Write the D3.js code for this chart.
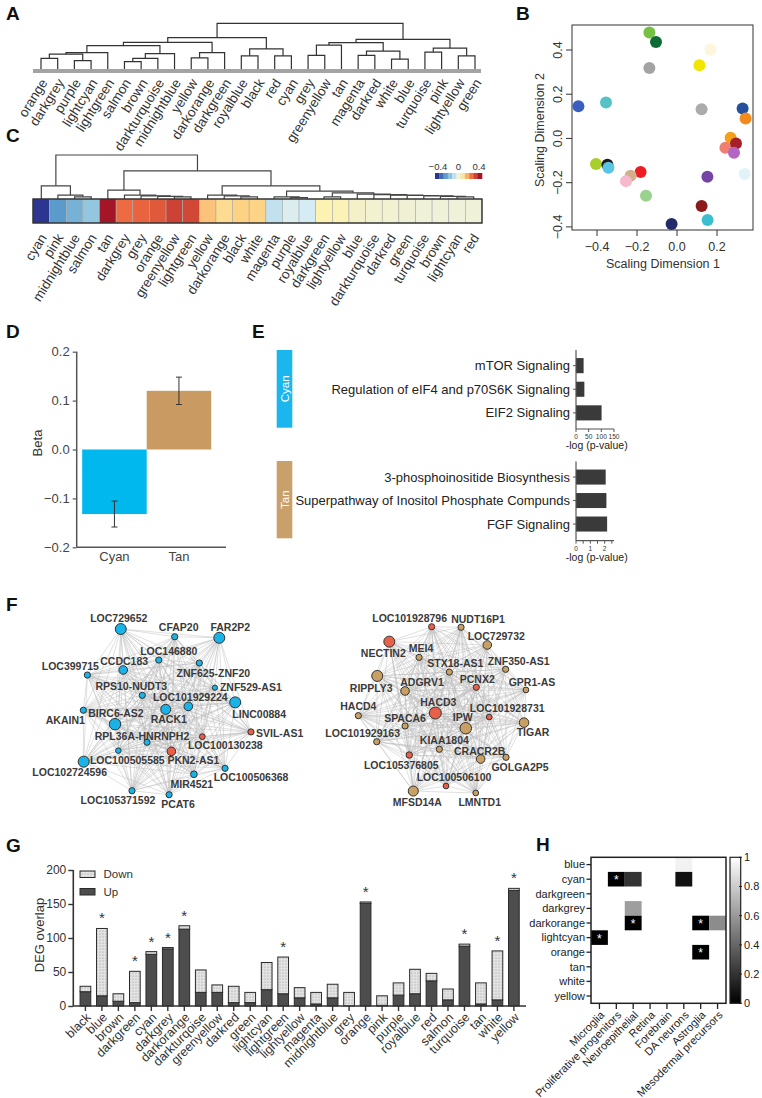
<!DOCTYPE html>
<html>
<head>
<meta charset="utf-8">
<script src="https://cdn.jsdelivr.net/npm/d3@7"></script>
<style>
  body { margin: 0; background: #fff; }
  svg { display: block; font-family: "Liberation Sans", Arial, sans-serif; }
</style>
</head>
<body>
<svg id="fig" width="762" height="1098"></svg>
<script>

// ---------- A: module eigengene dendrogram [height, left, right] ----------
const treeA = [47.7,
  [32.7,
    [27.7,
      [24.3,
        [17, [15.5, [11, "orange", "darkgrey"], [8.7, "purple", "lightcyan"]], "lightgreen"],
        [16, [11, [7.7, "salmon", "brown"], "darkturquoise"], "midnightblue"]],
      [17, [11.7, "yellow", "darkorange"], "darkgreen"]],
    [21, [13.7, "royalblue", "black"], [13.7, "red", "cyan"]]],
  [31,
    [27.5,
      [25, [14.3, "grey", "greenyellow"], "tan"],
      [18.7, [14.3, "magenta", "darkred"], [10.3, "white", "blue"]]],
    [21.7, [17.7, "turquoise", "pink"], [13.7, "lightyellow", "green"]]]];

// ---------- B: MDS of module eigengenes ----------
const mdsModules = ["green", "darkgreen", "lightyellow", "yellow", "grey", "royalblue", "darkturquoise",
  "darkgrey", "blue", "orange", "darkorange", "salmon", "darkred", "magenta", "greenyellow", "black",
  "cyan", "red", "tan", "pink", "purple", "lightcyan", "lightgreen", "brown", "turquoise", "midnightblue"];
const mdsX = [-0.138, -0.105, 0.168, 0.112, -0.138, -0.493, -0.355, 0.123, 0.328, 0.343, 0.268, 0.242,
  0.295, 0.285, -0.405, -0.348, -0.343, -0.182, -0.232, -0.255, 0.152, 0.338, -0.155, 0.123, 0.153, -0.027];
const mdsY = [0.479, 0.436, 0.402, 0.331, 0.319, 0.146, 0.163, 0.132, 0.135, 0.09, 0.003, -0.042,
  -0.023, -0.065, -0.116, -0.119, -0.132, -0.152, -0.169, -0.193, -0.173, -0.161, -0.259, -0.305, -0.369, -0.387];

// ---------- C: module-trait correlation dendrogram + heatmap ----------
const treeC = [1.0,
  [0.30, "cyan", [0.09, "pink", [0.05, "midnightblue", "salmon"]]],
  [0.64,
    [0.20, "tan", [0.09, "darkgrey", [0.07, "grey", [0.06, "orange", [0.05, "greenyellow", "lightgreen"]]]]],
    [0.30,
      [0.09, "yellow", [0.07, "darkorange", [0.05, "black", "white"]]],
      [0.18,
        [0.05, "magenta", [0.03, "purple", "royalblue"]],
        [0.14, [0.05, "darkgreen", "lightyellow"],
          [0.11, "blue", [0.10, "darkturquoise", [0.09, "darkred", [0.08, "green",
            [0.07, "turquoise", [0.06, "brown", [0.05, "lightcyan", "red"]]]]]]]]]]]];
const corrModules = ["cyan", "pink", "midnightblue", "salmon", "tan", "darkgrey", "grey", "orange",
  "greenyellow", "lightgreen", "yellow", "darkorange", "black", "white", "magenta", "purple", "royalblue",
  "darkgreen", "lightyellow", "blue", "darkturquoise", "darkred", "green", "turquoise", "brown", "lightcyan", "red"];
const corrValues = [-0.4, -0.25, -0.2, -0.15, 0.4, 0.25, 0.26, 0.28, 0.32, 0.31, 0.14, 0.1, 0.12, 0.115,
  -0.08, -0.04, -0.05, 0.05, 0.045, 0.02, 0.01, 0.01, 0.005, 0, 0, 0, 0];
const corrLegendTicks = [-0.4, 0, 0.4];

// ---------- D: association betas ----------
const betaGroups = ["Cyan", "Tan"];
const betaValues = [-0.132, 0.12];
const betaSE = [0.0265, 0.028];

// ---------- E: pathway enrichment ----------
const cyanPathways = ["mTOR Signaling", "Regulation of eIF4 and p70S6K Signaling", "EIF2 Signaling"];
const cyanLogP = [30, 33, 101];
const tanPathways = ["3-phosphoinositide Biosynthesis", "Superpathway of Inositol Phosphate Compunds", "FGF Signaling"];
const tanLogP = [2.07, 2.12, 2.17];

// ---------- F: hub gene networks (layout units 0-100) ----------
const cyanGenes = ["LOC729652", "CFAP20", "FAR2P2", "LOC146880", "CCDC183", "LOC399715", "ZNF625-ZNF20",
  "ZNF529-AS1", "RPS10-NUDT3", "LOC101929224", "LINC00884", "RACK1", "AKAIN1", "BIRC6-AS2", "SVIL-AS1",
  "LOC100130238", "RPL36A-HNRNPH2", "LOC100505585", "PKN2-AS1", "LOC102724596", "LOC100506368", "MIR4521",
  "LOC105371592", "PCAT6"];
const cyanLayoutX = [23.3, 54.1, 79.6, 45.0, 24.7, 4.2, 68.2, 77.1, 35.6, 61.9, 88.7, 49.0, 1.9, 20.0, 97.7,
  69.9, 38.3, 21.9, 52.2, 2.1, 82.9, 65.1, 29.7, 50.9];
const cyanLayoutY = [2.3, 6.7, 7.3, 20.0, 25.7, 28.6, 21.7, 35.8, 40.2, 46.5, 44.2, 48.2, 48.7, 56.7, 61.1,
  63.8, 67.0, 71.8, 72.2, 78.1, 81.9, 85.3, 94.7, 97.0];
const cyanDegree = [3, 1, 3, 1, 2, 1, 1, 0.6, 1, 2, 3, 2.6, 1, 3.2, 1, 0.8, 1, 0.7, 2, 3, 1, 1.2, 1, 1];
const cyanIsDE = [0, 0, 0, 0, 0, 0, 0, 0, 0, 0, 0, 0, 0, 0, 1, 1, 0, 0, 1, 0, 0, 0, 0, 0];

const tanGenes = ["LOC101928796", "NUDT16P1", "NECTIN2", "LOC729732", "MEI4", "STX18-AS1", "ZNF350-AS1",
  "RIPPLY3", "ADGRV1", "PCNX2", "GPR1-AS", "HACD4", "HACD3", "LOC101928731", "SPACA6", "IPW", "TIGAR",
  "LOC101929163", "KIAA1804", "CRACR2B", "GOLGA2P5", "LOC105376805", "LOC100506100", "MFSD14A", "LMNTD1"];
const tanLayoutX = [43.8, 60.6, 19.6, 75.6, 36.6, 53.9, 86.1, 12.7, 28.6, 69.3, 97.7, 1.9, 45.9, 76.7, 28.6,
  63.3, 96.6, 12.4, 48.2, 71.8, 86.3, 31.0, 52.0, 33.3, 69.0];
const tanLayoutY = [1.0, 1.3, 9.5, 11.4, 18.5, 26.9, 25.3, 29.1, 37.7, 35.6, 37.1, 51.8, 50.3, 52.6, 57.7,
  59.0, 55.8, 66.7, 71.0, 76.6, 75.6, 74.3, 92.0, 94.9, 96.0];
const tanDegree = [1, 1, 3, 2, 1, 1, 1, 3, 2, 1, 0.8, 1, 3.4, 0.8, 1, 3.2, 2.4, 1, 1, 2, 1, 1.1, 0.8, 2.6, 0.8];
const tanIsDE = [1, 0, 1, 0, 0, 0, 0, 0, 0, 1, 0, 0, 1, 1, 0, 0, 0, 0, 0, 0, 0, 1, 1, 0, 0];

// ---------- G: DEG overlap ----------
const degModules = ["black", "blue", "brown", "darkgreen", "cyan", "darkgrey", "darkorange", "darkturqoise",
  "greenyellow", "darkred", "green", "lightcyan", "lightgreen", "lightyellow", "magenta", "midnightblue",
  "grey", "orange", "pink", "purple", "royalblue", "red", "salmon", "turquoise", "tan", "white", "yellow"];
const degUp = [21, 15, 7, 5, 76, 84, 113, 20, 20, 5, 5, 24, 18, 12, 3, 12, 0, 151, 1, 16, 18, 37, 9, 88, 3, 9, 170];
const degDown = [8, 99, 11, 46, 4, 2, 5, 33, 11, 24, 15, 40, 54, 15, 17, 20, 20, 2, 14, 18, 36, 11, 16, 3, 31, 72, 3];
const degSig = [0, 1, 0, 1, 1, 1, 1, 0, 0, 0, 0, 0, 1, 0, 0, 0, 0, 1, 0, 0, 0, 0, 0, 1, 0, 1, 1];
const degTicks = [0, 50, 100, 150, 200];

// ---------- H: cell type enrichment ----------
const enrichModules = ["blue", "cyan", "darkgreen", "darkgrey", "darkorange", "lightcyan", "orange", "tan", "white", "yellow"];
const cellTypes = ["Microglia", "Proliferative progenitors", "Neuroepithelial", "Retina", "Forebrain",
  "DA neurons", "Astroglia", "Mesodermal precursors"];
// [module, cell type, adjusted p, significant]
const enrichCells = [
  ["blue", "DA neurons", 0.95, 0],
  ["cyan", "Proliferative progenitors", 0, 1],
  ["cyan", "Neuroepithelial", 0.2, 0],
  ["cyan", "DA neurons", 0.07, 0],
  ["darkgrey", "Neuroepithelial", 0.62, 0],
  ["darkorange", "Neuroepithelial", 0, 1],
  ["darkorange", "Astroglia", 0, 1],
  ["darkorange", "Mesodermal precursors", 0.55, 0],
  ["lightcyan", "Microglia", 0, 1],
  ["orange", "Astroglia", 0, 1]
];
const enrichLegendTicks = [0, 0.2, 0.4, 0.6, 0.8, 1];

// ---------- styles ----------
const mdsColor = {
  green: "#76c043", darkgreen: "#0e6b35", lightyellow: "#fdf6dc", yellow: "#f2e600", grey: "#a3a3a3",
  royalblue: "#3b5fbf", darkturquoise: "#56c2c6", darkgrey: "#ababab", blue: "#24519e", orange: "#f28a1e",
  darkorange: "#f5a01a", salmon: "#f07f72", darkred: "#a5202a", magenta: "#b366c3", greenyellow: "#a8cf2a",
  black: "#1a1a1a", cyan: "#58c5e5", red: "#ec1e24", tan: "#d3b08b", pink: "#f5b8cc", purple: "#7445a3",
  lightcyan: "#e1f2f8", lightgreen: "#98d28c", brown: "#8b1a1a", turquoise: "#3bbfcf", midnightblue: "#232a6a"
};
const ink = "#333";

const svg = d3.select("#fig");
const defs = svg.append("defs");

function letter(t, x, y) {
  svg.append("text").attr("x", x).attr("y", y)
    .attr("font-size", 19).attr("font-weight", "bold").attr("fill", "#111").text(t);
}

function treeLayout(tree, xOf, yOf) {
  const root = d3.hierarchy(tree, d => typeof d === "string" ? null : d.slice(1));
  root.eachAfter(d => {
    if (!d.children) { d.x = xOf(d.data); d.y = yOf(0); }
    else { d.x = d3.mean(d.children, c => c.x); d.y = yOf(d.data[0]); }
  });
  return root;
}

function drawTree(g, root, stroke) {
  g.selectAll("path.link")
    .data(root.descendants().filter(d => d.children))
    .join("path")
      .attr("class", "link")
      .attr("d", d => {
        const [l, r] = d.children;
        return `M${l.x},${l.y}V${d.y}H${r.x}V${r.y}`;
      })
      .attr("fill", "none")
      .attr("stroke", stroke)
      .attr("stroke-width", 1.2);
}

/* ================= A ================= */
letter("A", 6, 20);
{
  const g = svg.append("g");
  const leaves = d3.hierarchy(treeA, d => typeof d === "string" ? null : d.slice(1)).leaves().map(d => d.data);
  const x = d3.scalePoint().domain(leaves).range([41, 475]);
  const y = d3.scaleLinear().domain([0, 48]).range([69, 23]);
  const root = treeLayout(treeA, x, y);

  g.append("rect").attr("x", 33).attr("y", 69).attr("width", 448).attr("height", 4).attr("fill", "#a3a3a3");
  drawTree(g, root, "#333");

  g.selectAll("text.leaf")
    .data(leaves)
    .join("text")
      .attr("class", "leaf")
      .attr("transform", d => `translate(${x(d) + 3},80) rotate(-58)`)
      .attr("text-anchor", "end")
      .attr("dy", "0.35em")
      .attr("font-size", 13.5)
      .attr("fill", ink)
      .text(d => d);
}

/* ================= B ================= */
letter("B", 516, 20);
{
  const g = svg.append("g");
  const x = d3.scaleLinear().domain([-0.525, 0.38]).range([572, 753]);
  const y = d3.scaleLinear().domain([-0.414, 0.513]).range([230, 25]);
  const fmt = v => d3.format(".1f")(v).replace("-", "\u2212");

  g.append("rect").attr("x", 572).attr("y", 25).attr("width", 181).attr("height", 205)
    .attr("fill", "none").attr("stroke", ink).attr("stroke-width", 1);

  const xt = [-0.4, -0.2, 0, 0.2];
  g.selectAll("line.xt").data(xt).join("line").attr("class", "xt")
    .attr("x1", d => x(d)).attr("x2", d => x(d)).attr("y1", 230).attr("y2", 236)
    .attr("stroke", ink);
  g.selectAll("text.xt").data(xt).join("text").attr("class", "xt")
    .attr("x", d => x(d)).attr("y", 251).attr("text-anchor", "middle")
    .attr("font-size", 12.5).attr("fill", ink).text(fmt);

  const yt = [-0.4, -0.2, 0, 0.2, 0.4];
  g.selectAll("line.yt").data(yt).join("line").attr("class", "yt")
    .attr("x1", 566).attr("x2", 572).attr("y1", d => y(d)).attr("y2", d => y(d))
    .attr("stroke", ink);
  g.selectAll("text.yt").data(yt).join("text").attr("class", "yt")
    .attr("transform", d => `translate(558,${y(d)}) rotate(-90)`)
    .attr("text-anchor", "middle").attr("dy", "0.35em")
    .attr("font-size", 12.5).attr("fill", ink).text(fmt);

  g.append("text").attr("x", 663).attr("y", 268).attr("text-anchor", "middle")
    .attr("font-size", 12.5).attr("fill", ink).text("Scaling Dimension 1");
  g.append("text").attr("transform", "translate(540,130) rotate(-90)").attr("text-anchor", "middle")
    .attr("dy", "0.35em").attr("font-size", 12.5).attr("fill", ink).text("Scaling Dimension 2");

  g.selectAll("circle").data(mdsModules).join("circle")
    .attr("cx", (d, i) => x(mdsX[i]))
    .attr("cy", (d, i) => y(mdsY[i]))
    .attr("r", 6)
    .attr("fill", d => mdsColor[d]);
}

/* ================= C ================= */
letter("C", 6, 142);
{
  const g = svg.append("g");
  const x = d3.scaleBand().domain(corrModules).range([33, 482]);
  const y = d3.scaleLinear().domain([0, 1]).range([199, 155]);
  const color = d3.scaleLinear()
    .domain([-0.4, -0.25, -0.15, -0.05, 0, 0.05, 0.12, 0.25, 0.4])
    .range(["#2c3590", "#5a9bcb", "#93c7e0", "#d6ecf4", "#eff1d8", "#fcf2b2", "#fdd283", "#ee6a40", "#a51528"]);

  const root = treeLayout(treeC, d => x(d) + x.bandwidth() / 2, y);
  drawTree(g, root, "#444");

  g.selectAll("rect.cell").data(corrModules).join("rect").attr("class", "cell")
    .attr("x", d => x(d)).attr("y", 199)
    .attr("width", x.bandwidth()).attr("height", 24)
    .attr("fill", (d, i) => color(corrValues[i]))
    .attr("stroke", "#aaa").attr("stroke-width", 0.6);
  g.append("rect").attr("x", 33).attr("y", 199).attr("width", 449).attr("height", 24)
    .attr("fill", "none").attr("stroke", "#222").attr("stroke-width", 1.3);

  g.selectAll("text.leaf").data(corrModules).join("text").attr("class", "leaf")
    .attr("transform", d => `translate(${x(d) + x.bandwidth() / 2 + 2},235) rotate(-58)`)
    .attr("text-anchor", "end").attr("dy", "0.35em")
    .attr("font-size", 13.5).attr("fill", ink).text(d => d);

  // colour key
  const kx = d3.scaleLinear().domain([-0.4, 0.4]).range([435, 482]);
  const steps = d3.range(-0.4, 0.4001, 0.8 / 10);
  const bw = (482 - 435) / steps.length;
  g.selectAll("rect.key").data(steps).join("rect").attr("class", "key")
    .attr("x", (d, i) => 435 + i * bw).attr("y", 173).attr("width", bw + 0.3).attr("height", 6)
    .attr("fill", d => color(d));
  g.selectAll("text.key").data(corrLegendTicks).join("text").attr("class", "key")
    .attr("x", d => kx(d) + (d < 0 ? 3 : d > 0 ? -3 : 0)).attr("y", 170)
    .attr("text-anchor", "middle").attr("font-size", 9.5).attr("fill", ink)
    .text(d => d3.format(".1~f")(d));
}

/* ================= D ================= */
letter("D", 6, 338);
{
  const g = svg.append("g");
  const y = d3.scaleLinear().domain([-0.2, 0.2]).range([547.3, 351.7]);
  const x = d3.scaleBand().domain(betaGroups).range([76.7, 226])
    .paddingInner(0).paddingOuter(0.157).align(0.27);
  const fill = { Cyan: "#00b7ee", Tan: "#c99a62" };

  g.selectAll("rect").data(betaGroups).join("rect")
    .attr("x", d => x(d)).attr("width", x.bandwidth())
    .attr("y", (d, i) => y(Math.max(0, betaValues[i])))
    .attr("height", (d, i) => Math.abs(y(betaValues[i]) - y(0)))
    .attr("fill", d => fill[d]);

  g.selectAll("g.err").data(betaGroups).join("g").attr("class", "err")
    .each(function (d, i) {
      const cx = x(d) + x.bandwidth() / 2;
      const lo = y(betaValues[i] - betaSE[i]), hi = y(betaValues[i] + betaSE[i]);
      const e = d3.select(this);
      e.append("line").attr("x1", cx).attr("x2", cx).attr("y1", lo).attr("y2", hi);
      e.append("line").attr("x1", cx - 3).attr("x2", cx + 3).attr("y1", lo).attr("y2", lo);
      e.append("line").attr("x1", cx - 3).attr("x2", cx + 3).attr("y1", hi).attr("y2", hi);
      e.selectAll("line").attr("stroke", "#333").attr("stroke-width", 1);
    });

  const ax = g.append("g").attr("transform", "translate(76.7,0)")
    .call(d3.axisLeft(y).tickValues([-0.2, -0.1, 0, 0.1, 0.2]).tickSize(4).tickPadding(3)
      .tickFormat(v => d3.format(".1f")(v).replace("-", "\u2212")));
  ax.select(".domain").attr("stroke", "#555").attr("stroke-width", 1.5).attr("d", "M0,351.7V547.3");
  ax.selectAll(".tick line").attr("stroke", "#555").attr("stroke-width", 1.2);
  ax.selectAll(".tick text").attr("font-size", 13).attr("fill", "#444").attr("font-family", null);

  g.append("line").attr("x1", 76.7).attr("x2", 226).attr("y1", 547.3).attr("y2", 547.3)
    .attr("stroke", "#555").attr("stroke-width", 1.5);
  g.selectAll("text.xl").data(betaGroups).join("text").attr("class", "xl")
    .attr("x", d => x(d) + x.bandwidth() / 2).attr("y", 561)
    .attr("text-anchor", "middle").attr("font-size", 13).attr("fill", "#444").text(d => d);
  g.append("text").attr("transform", "translate(37,443) rotate(-90)")
    .attr("text-anchor", "middle").attr("dy", "0.35em").attr("font-size", 13).attr("fill", "#333").text("Beta");
}

/* ================= E ================= */
letter("E", 252, 338);
function pathwayChart(terms, vals, xs, range, axisBottom, ticks, labelled, tag, tagColor, tagTop, tagBottom) {
  const g = svg.append("g");
  const y = d3.scaleBand().domain(terms).range(range).paddingInner(0.36).paddingOuter(0.3);

  g.append("rect").attr("x", 276.7).attr("y", tagTop).attr("width", 15.6).attr("height", tagBottom - tagTop)
    .attr("fill", tagColor);
  g.append("text").attr("transform", `translate(284.5,${(tagTop + tagBottom) / 2}) rotate(-90)`)
    .attr("text-anchor", "middle").attr("dy", "0.35em").attr("font-size", 11.5).attr("fill", "#fff").text(tag);

  g.selectAll("rect.bar").data(terms).join("rect").attr("class", "bar")
    .attr("x", xs(0)).attr("y", d => y(d))
    .attr("width", (d, i) => xs(vals[i]) - xs(0)).attr("height", y.bandwidth())
    .attr("fill", "#3a3a3a");

  g.append("line").attr("x1", xs(0)).attr("x2", xs(0)).attr("y1", range[0] - 1).attr("y2", axisBottom)
    .attr("stroke", "#555").attr("stroke-width", 1.2);
  g.selectAll("line.yt").data(terms).join("line").attr("class", "yt")
    .attr("x1", xs(0) - 3).attr("x2", xs(0))
    .attr("y1", d => y(d) + y.bandwidth() / 2).attr("y2", d => y(d) + y.bandwidth() / 2)
    .attr("stroke", "#555");
  g.selectAll("text.term").data(terms).join("text").attr("class", "term")
    .attr("x", xs(0) - 6).attr("y", d => y(d) + y.bandwidth() / 2).attr("dy", "0.35em")
    .attr("text-anchor", "end").attr("font-size", 13).attr("fill", "#222").text(d => d);

  g.append("line").attr("x1", xs(0)).attr("x2", xs.range()[1]).attr("y1", axisBottom).attr("y2", axisBottom)
    .attr("stroke", "#555").attr("stroke-width", 1.2);
  g.selectAll("line.xt").data(ticks).join("line").attr("class", "xt")
    .attr("x1", d => xs(d)).attr("x2", d => xs(d)).attr("y1", axisBottom).attr("y2", axisBottom + 3)
    .attr("stroke", "#555");
  g.selectAll("text.xt").data(labelled).join("text").attr("class", "xt")
    .attr("x", d => xs(d)).attr("y", axisBottom + 10).attr("text-anchor", "middle")
    .attr("font-size", 6.6).attr("fill", "#333").text(d => d);
  g.append("text").attr("x", 596.7).attr("y", axisBottom + 20).attr("text-anchor", "middle")
    .attr("font-size", 10.5).attr("fill", "#222").text("-log (p-value)");
}
pathwayChart(cyanPathways, cyanLogP, d3.scaleLinear().domain([0, 150]).range([576, 614]),
  [351, 427.5], 429, [0, 50, 100, 150], [0, 50, 100, 150], "Cyan", "#1ab6ed", 350, 427.7);
pathwayChart(tanPathways, tanLogP, d3.scaleLinear().domain([0, 2.65]).range([576, 614]),
  [462.5, 538.6], 540.7, [0, 0.5, 1, 1.5, 2, 2.5], [0, 1, 2], "Tan", "#c9a06a", 461, 538.3);

/* ================= F ================= */
letter("F", 6, 611);
const cyanLabelPos = [[-2, -11, "middle"], [4, -9, "middle"], [11, -10, "middle"], [10, -9, "middle"],
  [1, -9, "middle"], [-17, -9, "middle"], [14, 10, "middle"], [5, 0, "start"], [-11, -9, "middle"],
  [2, -9, "middle"], [24, 12, "middle"], [3, 10, "middle"], [-18, 10, "middle"], [1, -11, "middle"],
  [5, 1, "start"], [23, 9, "middle"], [-5, -6, "middle"], [9, 10, "middle"], [22, 9, "middle"],
  [-14, 11, "middle"], [26, 9, "middle"], [-2, 10, "middle"], [-14, 10, "middle"], [9, 10, "middle"]];
const tanLabelPos = [[-22, -8, "middle"], [17, -8, "middle"], [-6, 12, "middle"], [9, -9, "middle"],
  [2, -9, "middle"], [6, -9, "middle"], [13, -8, "middle"], [-6, 12, "middle"], [17, -9, "middle"],
  [1, -8, "middle"], [6, -8, "middle"], [0, -9, "middle"], [3, -11, "middle"], [18, -9, "middle"],
  [0, -8, "middle"], [-3, -11, "middle"], [9, 10, "middle"], [-14, -8, "middle"], [5, -9, "middle"],
  [-1, -8, "middle"], [14, 10, "middle"], [-8, 10, "middle"], [8, -9, "middle"], [4, 11, "middle"],
  [4, 9, "middle"]];

function network(genes, lx, ly, degree, isDE, labelPos, xr, yr, baseColor) {
  const g = svg.append("g");
  const x = d3.scaleLinear().domain([0, 100]).range(xr);
  const y = d3.scaleLinear().domain([0, 100]).range(yr);
  const r = d3.scaleLinear().domain([1, 3]).range([3.1, 5.5]);
  const nodes = genes.map((name, i) => ({ name, x: x(lx[i]), y: y(ly[i]), r: r(degree[i]), de: isDE[i], lp: labelPos[i] }));
  const links = [];
  for (let i = 0; i < nodes.length; i++)
    for (let j = i + 1; j < nodes.length; j++) links.push([nodes[i], nodes[j]]);

  g.selectAll("line").data(links).join("line")
    .attr("x1", d => d[0].x).attr("y1", d => d[0].y)
    .attr("x2", d => d[1].x).attr("y2", d => d[1].y)
    .attr("stroke", "#b8b8b8").attr("stroke-opacity", 0.55).attr("stroke-width", 0.8);

  g.selectAll("circle").data(nodes).join("circle")
    .attr("cx", d => d.x).attr("cy", d => d.y).attr("r", d => d.r)
    .attr("fill", d => d.de ? "#e8604a" : baseColor)
    .attr("stroke", "#333").attr("stroke-width", 1);

  g.selectAll("text").data(nodes).join("text")
    .attr("x", d => d.x + d.lp[0]).attr("y", d => d.y + d.lp[1]).attr("dy", "0.35em")
    .attr("text-anchor", d => d.lp[2])
    .attr("font-size", 10.5).attr("font-weight", "bold").attr("fill", "#3a3a3a")
    .text(d => d.name);
}
network(cyanGenes, cyanLayoutX, cyanLayoutY, cyanDegree, cyanIsDE, cyanLabelPos, [80, 255], [625, 800], "#1ab3e8");
network(tanGenes, tanLayoutX, tanLayoutY, tanDegree, tanIsDE, tanLabelPos, [355, 530], [625, 800], "#c9a063");

/* ================= G ================= */
letter("G", 6, 852);
{
  const g = svg.append("g");
  const pat = defs.append("pattern").attr("id", "dots").attr("patternUnits", "userSpaceOnUse")
    .attr("width", 3).attr("height", 3);
  pat.append("rect").attr("width", 3).attr("height", 3).attr("fill", "#e3e3e3");
  pat.append("circle").attr("cx", 1).attr("cy", 1).attr("r", 0.55).attr("fill", "#909090");

  const x = d3.scaleBand().domain(degModules).range([73.3, 526]).paddingInner(0.35).paddingOuter(0.41);
  const y = d3.scaleLinear().domain([0, 200]).range([1006, 870]);
  const rows = degModules.map((m, i) => ({ module: m, up: degUp[i], down: degDown[i], sig: degSig[i] }));
  const series = d3.stack().keys(["up", "down"])(rows);
  const fills = { up: "#4d4d4d", down: "url(#dots)" };

  g.selectAll("g.series").data(series).join("g").attr("class", "series")
    .attr("fill", d => fills[d.key])
    .selectAll("rect").data(d => d).join("rect")
      .attr("x", d => x(d.data.module)).attr("width", x.bandwidth())
      .attr("y", d => y(d[1])).attr("height", d => y(d[0]) - y(d[1]))
      .attr("stroke", "#2a2a2a").attr("stroke-width", 1);

  g.selectAll("text.star").data(rows.filter(d => d.sig)).join("text").attr("class", "star")
    .attr("x", d => x(d.module) + x.bandwidth() / 2).attr("y", d => y(d.up + d.down) - 5)
    .attr("text-anchor", "middle").attr("font-size", 15).attr("fill", "#333").text("*");

  const ay = g.append("g").attr("transform", "translate(73.3,0)")
    .call(d3.axisLeft(y).tickValues(degTicks).tickSize(5).tickPadding(2));
  ay.select(".domain").attr("stroke", "#333").attr("stroke-width", 1.6).attr("d", "M0,870V1006");
  ay.selectAll(".tick line").attr("stroke", "#333").attr("stroke-width", 1.4);
  ay.selectAll(".tick text").attr("font-size", 12).attr("fill", "#333").attr("font-family", null);

  const axb = g.append("g").attr("transform", "translate(0,1006)")
    .call(d3.axisBottom(x).tickSize(5).tickFormat(""));
  axb.select(".domain").attr("stroke", "#333").attr("stroke-width", 1.6).attr("d", "M73.3,0H526");
  axb.selectAll(".tick line").attr("stroke", "#333").attr("stroke-width", 1.4);

  g.selectAll("text.xl").data(degModules).join("text").attr("class", "xl")
    .attr("transform", d => `translate(${x(d) + x.bandwidth() / 2 + 3},1015) rotate(-45)`)
    .attr("text-anchor", "end").attr("dy", "0.35em").attr("font-size", 12.5).attr("fill", "#333").text(d => d);

  g.append("text").attr("transform", "translate(39,935) rotate(-90)").attr("text-anchor", "middle")
    .attr("dy", "0.35em").attr("font-size", 13).attr("fill", "#333").text("DEG overlap");

  const legend = [["Down", "down", 871], ["Up", "up", 888.5]];
  legend.forEach(([lab, key, ly]) => {
    g.append("rect").attr("x", 80).attr("y", ly).attr("width", 15).attr("height", 6.5)
      .attr("fill", fills[key]).attr("stroke", "#2a2a2a");
    g.append("text").attr("x", 103.5).attr("y", ly + 3.3).attr("dy", "0.35em")
      .attr("font-size", 11.5).attr("fill", "#333").text(lab);
  });
}

/* ================= H ================= */
letter("H", 536, 851);
{
  const g = svg.append("g");
  const x = d3.scaleBand().domain(cellTypes).range([591, 726]);
  const y = d3.scaleBand().domain(enrichModules).range([857.3, 1003.3]);
  const shade = d3.scaleLinear().domain([0, 1]).range(["#000", "#fff"]);

  g.selectAll("rect.cell").data(enrichCells).join("rect").attr("class", "cell")
    .attr("x", d => x(d[1])).attr("y", d => y(d[0]))
    .attr("width", x.bandwidth()).attr("height", y.bandwidth())
    .attr("fill", d => shade(d[2]));
  g.selectAll("text.star").data(enrichCells.filter(d => d[3])).join("text").attr("class", "star")
    .attr("x", d => x(d[1]) + x.bandwidth() / 2).attr("y", d => y(d[0]) + y.bandwidth() / 2 + 5)
    .attr("text-anchor", "middle").attr("font-size", 12).attr("fill", "#fff").text("*");

  g.append("rect").attr("x", 591).attr("y", 857.3).attr("width", 135).attr("height", 146)
    .attr("fill", "none").attr("stroke", "#222").attr("stroke-width", 1.5);

  g.selectAll("line.rt").data(enrichModules).join("line").attr("class", "rt")
    .attr("x1", 586.5).attr("x2", 591)
    .attr("y1", d => y(d) + y.bandwidth() / 2).attr("y2", d => y(d) + y.bandwidth() / 2)
    .attr("stroke", "#222").attr("stroke-width", 1.3);
  g.selectAll("text.rl").data(enrichModules).join("text").attr("class", "rl")
    .attr("x", 585).attr("y", d => y(d) + y.bandwidth() / 2).attr("dy", "0.35em")
    .attr("text-anchor", "end").attr("font-size", 11).attr("fill", "#222").text(d => d);

  g.selectAll("line.ct").data(cellTypes).join("line").attr("class", "ct")
    .attr("x1", d => x(d) + x.bandwidth() / 2).attr("x2", d => x(d) + x.bandwidth() / 2)
    .attr("y1", 1003.3).attr("y2", 1009)
    .attr("stroke", "#222").attr("stroke-width", 1.3);
  g.selectAll("text.cl").data(cellTypes).join("text").attr("class", "cl")
    .attr("transform", d => `translate(${x(d) + x.bandwidth() / 2 + 3},1013) rotate(-45)`)
    .attr("text-anchor", "end").attr("dy", "0.35em").attr("font-size", 11).attr("fill", "#222").text(d => d);

  // colour bar
  const grad = defs.append("linearGradient").attr("id", "greyBar")
    .attr("x1", 0).attr("y1", 1).attr("x2", 0).attr("y2", 0);
  grad.append("stop").attr("offset", 0).attr("stop-color", shade(0));
  grad.append("stop").attr("offset", 1).attr("stop-color", shade(1));
  const cb = d3.scaleLinear().domain([0, 1]).range([1003.3, 857.3]);
  g.append("rect").attr("x", 730).attr("y", 857.3).attr("width", 10.7).attr("height", 146)
    .attr("fill", "url(#greyBar)").attr("stroke", "#222").attr("stroke-width", 1.2);
  g.selectAll("line.cbt").data(enrichLegendTicks).join("line").attr("class", "cbt")
    .attr("x1", 739).attr("x2", 742).attr("y1", d => cb(d)).attr("y2", d => cb(d))
    .attr("stroke", "#222");
  g.selectAll("text.cbt").data(enrichLegendTicks).join("text").attr("class", "cbt")
    .attr("x", 744).attr("y", d => cb(d)).attr("dy", "0.35em")
    .attr("font-size", 11).attr("fill", "#222").text(d => d3.format("~g")(d));
}
</script>
</body>
</html>
